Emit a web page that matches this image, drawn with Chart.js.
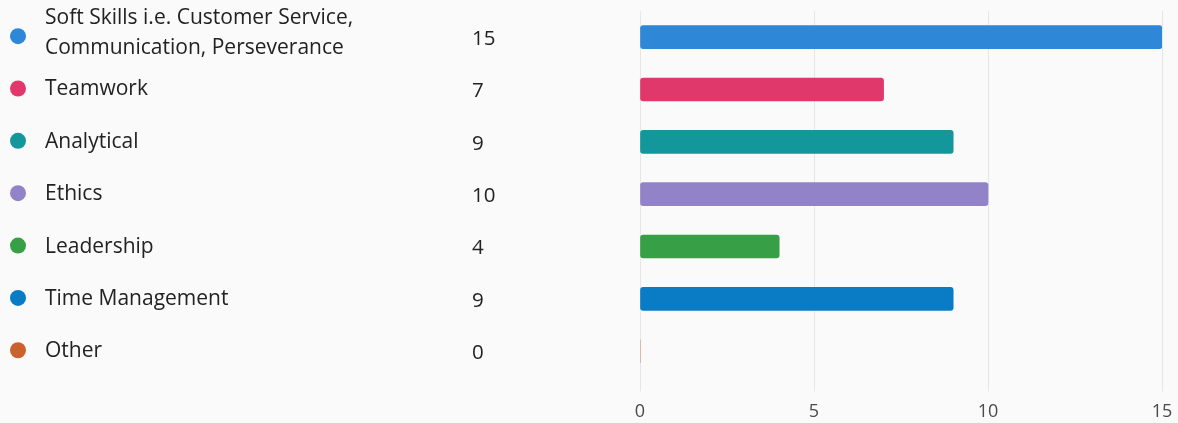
<!DOCTYPE html>
<html>
<head>
<meta charset="utf-8">
<script src="https://cdn.jsdelivr.net/npm/chart.js@4/dist/chart.umd.min.js"></script>
<style>
  body { margin: 0; background: #fafafa; }
  .wrap { width: 1178px; height: 423px; }
</style>
</head>
<body>
<div class="wrap"><canvas id="myChart"></canvas></div>
<script>
const categories = [
  ["Soft Skills i.e. Customer Service,", "Communication, Perseverance"],
  "Teamwork",
  "Analytical",
  "Ethics",
  "Leadership",
  "Time Management",
  "Other",
];
const counts = [15, 7, 9, 10, 4, 9, 0];
const colors = ["#2f87d8", "#e1386b", "#13979a", "#9282c8", "#37a047", "#0a7cc6", "#c9622c"];
const xTicks = [0, 5, 10, 15];

const fontFamily = "'Open Sans', 'Noto Sans', sans-serif";

// left side list: dot, label, count
const sideList = {
  id: "sideList",
  afterDraw(chart) {
    const ctx = chart.ctx;
    const yScale = chart.scales.y;
    ctx.save();
    ctx.textBaseline = "middle";
    ctx.textAlign = "left";
    categories.forEach((label, i) => {
      const y = yScale.getPixelForValue(i);
      ctx.fillStyle = colors[i];
      ctx.beginPath();
      ctx.arc(18, y - 1, 8, 0, Math.PI * 2);
      ctx.fill();

      ctx.fillStyle = "#222";
      ctx.font = "21px " + fontFamily;
      if (Array.isArray(label)) {
        ctx.fillText(label[0], 45, y - 19);
        ctx.fillText(label[1], 45, y + 11);
      } else {
        ctx.fillText(label, 45, y);
      }
      ctx.font = "20.5px " + fontFamily;
      ctx.fillText(String(counts[i]), 472, y + 2);
    });
    ctx.restore();
  },
};

new Chart(document.getElementById("myChart"), {
  type: "bar",
  data: {
    labels: categories,
    datasets: [
      {
        data: counts,
        backgroundColor: colors,
        barThickness: 23,
        borderRadius: 3,
        borderSkipped: false,
      },
    ],
  },
  options: {
    indexAxis: "y",
    responsive: true,
    maintainAspectRatio: false,
    animation: false,
    layout: { padding: { left: 640, right: 0, top: 11, bottom: -10 } },
    plugins: { legend: { display: false }, tooltip: { enabled: false } },
    scales: {
      y: { display: false },
      x: {
        min: 0,
        max: 15,
        afterBuildTicks: (scale) => {
          scale.ticks = xTicks.map((v) => ({ value: v }));
        },
        afterFit: (scale) => {
          // keep the last tick close to the right edge
          scale.paddingRight = 16;
        },
        border: { display: false },
        grid: { color: "#e6e6e6", tickLength: 14, tickColor: "#e6e6e6" },
        ticks: {
          padding: 10,
          color: "#4a4a4a",
          font: { size: 18, family: fontFamily },
        },
      },
    },
  },
  plugins: [sideList],
});
</script>
</body>
</html>
